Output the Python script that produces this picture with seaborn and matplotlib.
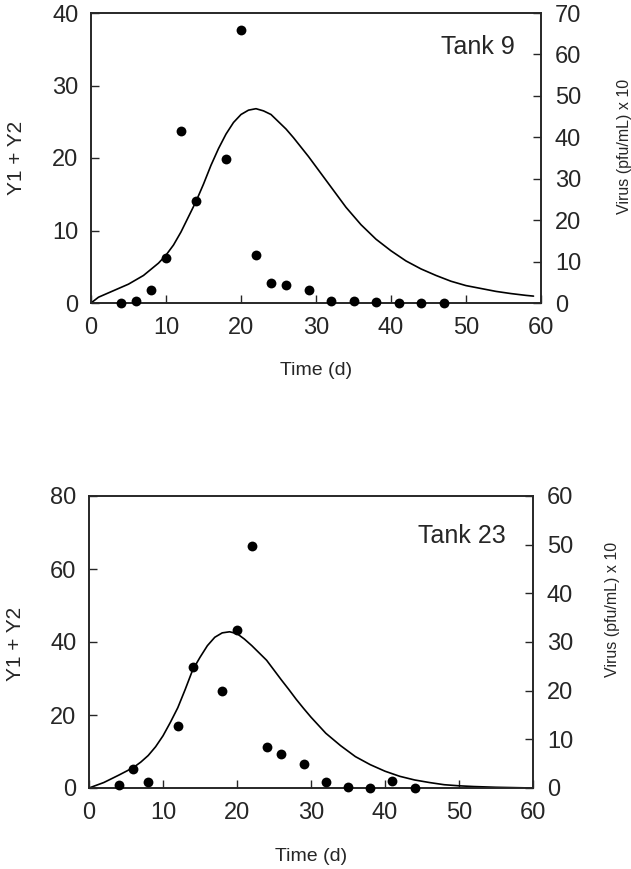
import numpy as np
import pandas as pd
import matplotlib
matplotlib.use("Agg")
import matplotlib.pyplot as plt
import seaborn as sns

# ---- Data: Tank 9 ----
t9_line_day = [0, 1, 3, 5, 7, 9, 10, 11, 12, 13, 14, 15, 16, 17, 18, 19, 20, 21, 22, 23,
               24, 25, 26, 27, 28, 29, 30, 32, 34, 36, 38, 40, 42, 44, 46, 48, 50, 52,
               54, 56, 58, 59]
t9_line_y = [0, 0.8, 1.7, 2.6, 3.8, 5.5, 6.6, 8.0, 9.8, 11.9, 14.0, 16.4, 19.0, 21.3, 23.3,
             24.9, 26.0, 26.6, 26.8, 26.5, 26.0, 25.0, 24.0, 22.8, 21.5, 20.2, 18.8, 16.0,
             13.2, 10.8, 8.8, 7.2, 5.8, 4.7, 3.8, 3.0, 2.4, 2.0, 1.6, 1.3, 1.05, 0.95]
t9_virus_day = [4, 6, 8, 10, 12, 14, 18, 20, 22, 24, 26, 29, 32, 35, 38, 41, 44, 47]
t9_virus = [0, 0.5, 3.1, 10.9, 41.5, 24.6, 34.7, 65.9, 11.6, 4.75, 4.35, 3.1, 0.5, 0.5,
            0.25, 0, 0, 0]

# ---- Data: Tank 23 ----
t23_line_day = [0, 2, 4, 6, 7, 8, 9, 10, 11, 12, 13, 14, 15, 16, 17, 18, 19, 20, 21, 22,
                23, 24, 25, 26, 27, 28, 29, 30, 32, 34, 36, 38, 40, 42, 44, 46, 48, 50,
                52, 55, 60]
t23_line_y = [0, 1.5, 3.5, 5.6, 7.1, 8.9, 11.3, 14.3, 18.0, 22.0, 27.0, 32.3, 35.8, 39.0,
              41.3, 42.5, 42.8, 42.3, 40.8, 39.0, 37.0, 35.0, 32.3, 29.6, 27.0, 24.3, 21.8,
              19.4, 15.0, 11.6, 8.6, 6.4, 4.6, 3.2, 2.2, 1.5, 0.9, 0.6, 0.4, 0.2, 0]
t23_virus_day = [4, 6, 8, 12, 14, 18, 20, 22, 24, 26, 29, 32, 35, 38, 41, 44]
t23_virus = [0.55, 4.0, 1.2, 12.7, 24.8, 19.9, 32.4, 49.8, 8.5, 7.0, 4.9, 1.2, 0.3, 0,
             1.4, 0]

x_ticks = [0, 10, 20, 30, 40, 50, 60]

sns.set_style("ticks")
plt.rcParams['font.family'] = ['Liberation Sans', 'DejaVu Sans']

fig = plt.figure(figsize=(6.31, 8.69), dpi=100)

panels = [
    dict(rect=[91/631, 1-303/869, 450/631, 290/869],
         ld=t9_line_day, ly=t9_line_y, vd=t9_virus_day, vy=t9_virus,
         lmax=40, lstep=10, rmax=70, rstep=10, title="Tank 9",
         title_pos=(0.942, 0.883), llabel_pos=(-0.165, 0.5),
         rlabel_pos=(1.185, 0.54)),
    dict(rect=[89/631, 1-788/869, 444/631, 292/869],
         ld=t23_line_day, ly=t23_line_y, vd=t23_virus_day, vy=t23_virus,
         lmax=80, lstep=20, rmax=60, rstep=10, title="Tank 23",
         title_pos=(0.939, 0.864), llabel_pos=(-0.166, 0.493),
         rlabel_pos=(1.18, 0.61)),
]

for p in panels:
    ax = fig.add_axes(p['rect'])
    dfl = pd.DataFrame({'day': p['ld'], 'y': p['ly']})
    sns.lineplot(data=dfl, x='day', y='y', ax=ax, color='black', linewidth=1.2)
    ax.set_xlim(0, 60)
    ax.set_ylim(0, p['lmax'])
    ax.set_xticks(x_ticks)
    ax.set_yticks(np.arange(0, p['lmax'] + 1, p['lstep']))
    ax.tick_params(direction='in', length=6, width=1, labelsize=17, pad=9)
    ax.tick_params(axis='x', pad=10)
    ax.set_xlabel("Time (d)", fontsize=14)
    ax.set_ylabel("Y1 + Y2", fontsize=15)
    ax.xaxis.set_label_coords(0.5, -0.234)
    ax.yaxis.set_label_coords(*p['llabel_pos'])
    ax.xaxis.label.set_va('center')
    ax.yaxis.label.set_va('center')
    for s in ax.spines.values():
        s.set_linewidth(1.2)
        s.set_visible(True)

    ax2 = ax.twinx()
    dfv = pd.DataFrame({'day': p['vd'], 'v': p['vy']})
    sns.scatterplot(data=dfv, x='day', y='v', ax=ax2, color='black', s=50,
                    edgecolor='black', linewidth=0, clip_on=False, zorder=5)
    ax2.set_ylim(0, p['rmax'])
    ax2.set_yticks(np.arange(0, p['rmax'] + 1, p['rstep']))
    ax2.tick_params(direction='in', length=6, width=1, labelsize=17, pad=10)
    ax2.set_ylabel("Virus (pfu/mL) x 10", fontsize=11.5)
    ax2.yaxis.set_label_coords(*p['rlabel_pos'])
    ax2.yaxis.label.set_va('center')
    for s in ax2.spines.values():
        s.set_linewidth(1.2)
    ax.text(p['title_pos'][0], p['title_pos'][1], p['title'], transform=ax.transAxes,
            ha='right', va='center', fontsize=18)

fig.savefig("out.png", dpi=100)
